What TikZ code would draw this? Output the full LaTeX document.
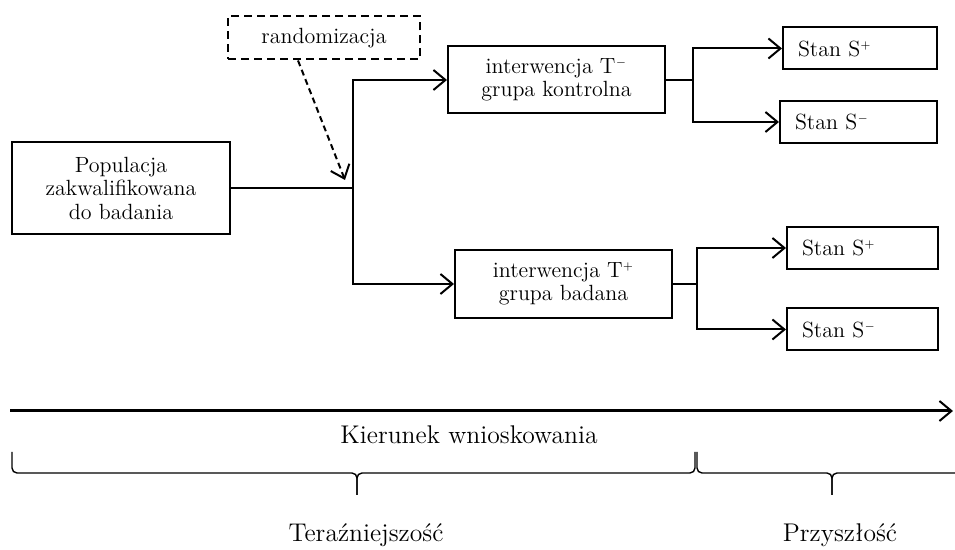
\documentclass[tikz,border=0pt]{standalone}
\usetikzlibrary{arrows.meta}

\tikzset{
    box/.style={draw, line width=1pt, align=center, font=\fontsize{11}{11.75}\selectfont},
    statebox/.style={box, align=left, text width=62pt, inner xsep=7.5pt, minimum height=21pt},
    link/.style={line width=1pt},
    bracket/.style={line width=0.7pt, rounded corners=2.5pt},
    bigtext/.style={font=\fontsize{12.8}{15}\selectfont}
}

\begin{document}
\begin{tikzpicture}[x=0.5pt, y=-0.5pt, >={Straight Barb[length=6pt, width=10pt, line width=1pt]}]
                \useasboundingbox (0,0) rectangle (955,550);

                % Nodes
                \node[box, dash pattern=on 4pt off 2.5pt, minimum width=96pt, minimum height=21.5pt] at (324, 38) (rand) {randomizacja};
                \node[box, minimum width=109pt, minimum height=46pt] at (121, 188) (pop) {Populacja\\zakwalifikowana\\do badania};
                \node[box, minimum width=108.5pt, minimum height=33.5pt] at (556.5, 80) (ctrl) {interwencja T$^{\scriptscriptstyle -}$\\grupa kontrolna};
                \node[box, minimum width=108.5pt, minimum height=34pt] at (563.5, 284) (exp) {interwencja T$^{\scriptscriptstyle +}$\\grupa badana};

                \node[statebox] at (860, 48.5) (sp1) {Stan S$^{\scriptscriptstyle +}$};
                \node[statebox, text width=63.5pt] at (858.5, 122) (sm1) {Stan S$^{\scriptscriptstyle -}$};
                \node[statebox, text width=60.5pt] at (862.5, 248) (sp2) {Stan S$^{\scriptscriptstyle +}$};
                \node[statebox, text width=60.5pt] at (862.5, 329.5) (sm2) {Stan S$^{\scriptscriptstyle -}$};

                \node[bigtext] at (469, 435) (dir) {Kierunek wnioskowania};
                \node[bigtext] at (366, 535) (now) {Teraźniejszość};
                \node[bigtext] at (840, 535) (future) {Przyszłość};

                \coordinate (split) at (353, 188);
                \coordinate (fork1) at (693, 80);
                \coordinate (fork2) at (697, 284);
                \coordinate (rtip) at (345, 180);
                \coordinate (tl0) at (10, 411);
                \coordinate (tl1) at (953, 411);

                % Edges
                \draw[link] (pop) -- (split);
                \draw[link, ->] (split) |- (ctrl.west);
                \draw[link, ->] (split) |- (exp.west);

                \draw[link, dash pattern=on 3pt off 2pt, ->] ([xshift=-13pt]rand.south) -- (rtip);

                \draw[link] (ctrl.east) -- (fork1);
                \draw[link, ->] (fork1) |- (sp1.west);
                \draw[link, ->] (fork1) |- (sm1.west);

                \draw[link] (exp.east) -- (fork2);
                \draw[link, ->] (fork2) |- (sp2.west);
                \draw[link, ->] (fork2) |- (sm2.west);

                % Timeline and brackets
                \draw[line width=1.5pt, ->] (tl0) -- (tl1);
                \draw[bracket] (12, 452) -- (12, 473) -- (357, 473) -- (357, 495);
                \draw[bracket] (357, 495) -- (357, 473) -- (695, 473) -- (695, 452);
                \draw[bracket] (697, 452) -- (697, 473) -- (832, 473) -- (832, 495);
                \draw[bracket] (832, 495) -- (832, 473) -- (965, 473);
            \end{tikzpicture}
\end{document}
